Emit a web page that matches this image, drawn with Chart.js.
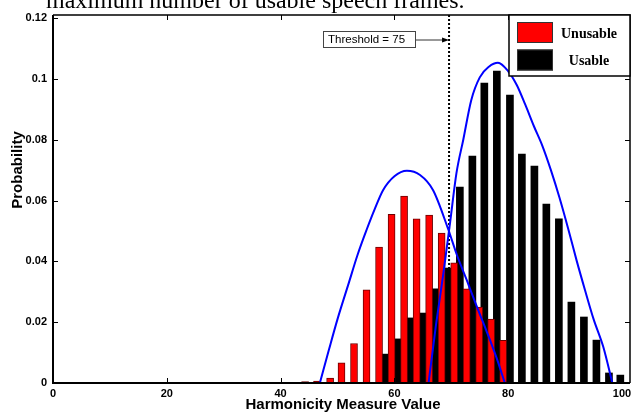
<!DOCTYPE html>
<html>
<head>
<meta charset="utf-8">
<script src="https://cdn.jsdelivr.net/npm/chart.js@4.4.1/dist/chart.umd.min.js"></script>
<style>
  html, body { margin: 0; padding: 0; background: #fff; }
  #wrap { width: 642px; height: 414px; }
</style>
</head>
<body>
<div id="wrap"><canvas id="chart" width="642" height="414"></canvas></div>
<script>
// Ticks
var xTicks = [0, 20, 40, 60, 80, 100];
var yTicks = [0, 0.02, 0.04, 0.06, 0.08, 0.1, 0.12];

// Histogramme "Unusable" (rouge)
var unusableX = [44.3, 46.4, 48.7, 50.7, 52.9, 55.1, 57.3, 59.5, 61.7, 63.9, 66.1, 68.3, 70.5, 72.7, 74.9, 77.0, 79.1];
var unusableP = [0.0005, 0.0006, 0.0016, 0.0066, 0.013, 0.0306, 0.0447, 0.0555, 0.0615, 0.054, 0.0552, 0.0493, 0.0395, 0.031, 0.025, 0.021, 0.014];

// Histogramme "Usable" (noir)
var usableX = [58.4, 60.6, 62.8, 65.0, 67.1, 69.4, 71.5, 73.7, 75.8, 78.0, 80.3, 82.4, 84.6, 86.7, 88.9, 91.1, 93.3, 95.5, 97.7, 99.7];
var usableP = [0.0095, 0.0145, 0.0214, 0.023, 0.031, 0.0378, 0.0644, 0.0746, 0.0986, 0.1026, 0.0947, 0.0753, 0.0713, 0.0588, 0.054, 0.0266, 0.0217, 0.0141, 0.0033, 0.0026];

// Courbes bleues
var fitUnusableX = [46.9, 48.5, 50.0, 52.0, 53.5, 55.1, 56.5, 58.0, 60.0, 62.2, 64.5, 66.8, 69.5, 71.0, 72.7, 74.5, 76.2, 78.0, 79.4];
var fitUnusableP = [0, 0.011, 0.021, 0.033, 0.042, 0.0503, 0.057, 0.0634, 0.068, 0.0698, 0.0684, 0.0634, 0.0503, 0.042, 0.0339, 0.025, 0.017, 0.008, 0];

var fitUsableX = [66.0, 67.3, 68.6, 69.8, 70.9, 72.1, 73.5, 75.0, 76.6, 78.2, 80.0, 81.5, 83.0, 84.5, 86.0, 87.5, 89.0, 90.5, 92.0, 93.5, 95.0, 96.7, 98.3];
var fitUsableP = [0, 0.019, 0.036, 0.053, 0.069, 0.080, 0.093, 0.1005, 0.104, 0.1053, 0.1025, 0.098, 0.0915, 0.0845, 0.078, 0.070, 0.061, 0.051, 0.0404, 0.0305, 0.021, 0.0119, 0];

// Seuil
var thresholdX = 69.6;
var thresholdText = 'Threshold = 75';

function pairs(xs, ys) {
    return xs.map(function(x, i) { return { x: x, y: ys[i] }; });
}

var sansBold = { family: '"Liberation Sans", Arial, sans-serif', size: 11, weight: 'bold' };

/**
 * Desenho do quadro, ticks, títulos, legenda e anotação
 */
var decorPlugin = {
    id: 'decor',
    beforeDatasetsDraw: function(chart) {
        var ctx = chart.ctx, a = chart.chartArea;
        var tx = chart.scales.x.getPixelForValue(thresholdX);
        ctx.save();
        ctx.strokeStyle = '#000';
        ctx.lineWidth = 2;
        ctx.setLineDash([2, 2]);
        ctx.beginPath();
        ctx.moveTo(tx, a.top);
        ctx.lineTo(tx, a.bottom);
        ctx.stroke();
        ctx.restore();
    },
    afterDraw: function(chart) {
        var ctx = chart.ctx, a = chart.chartArea;
        var xs = chart.scales.x, ys = chart.scales.y;
        ctx.save();

        // quadro
        ctx.strokeStyle = '#000';
        ctx.lineWidth = 1.5;
        ctx.beginPath();
        ctx.moveTo(a.left, a.top);
        ctx.lineTo(a.right, a.top);
        ctx.lineTo(a.right, a.bottom);
        ctx.stroke();
        ctx.lineWidth = 2;
        ctx.beginPath();
        ctx.moveTo(a.left, a.top);
        ctx.lineTo(a.left, a.bottom);
        ctx.lineTo(a.right, a.bottom);
        ctx.stroke();

        // ticks para dentro
        ctx.lineWidth = 1;
        ctx.beginPath();
        xTicks.forEach(function(v) {
            var px = Math.round(xs.getPixelForValue(v)) + 0.5;
            ctx.moveTo(px, a.bottom);
            ctx.lineTo(px, a.bottom - 5);
            ctx.moveTo(px, a.top);
            ctx.lineTo(px, a.top + 5);
        });
        yTicks.forEach(function(v) {
            var py = Math.round(ys.getPixelForValue(v)) + 0.5;
            ctx.moveTo(a.left, py);
            ctx.lineTo(a.left + 5, py);
            ctx.moveTo(a.right, py);
            ctx.lineTo(a.right - 5, py);
        });
        ctx.stroke();

        // títulos dos eixos
        ctx.fillStyle = '#000';
        ctx.font = 'bold 15px "Liberation Sans", Arial, sans-serif';
        ctx.textAlign = 'center';
        ctx.textBaseline = 'middle';
        ctx.fillText('Harmonicity Measure Value', 343, 405);
        ctx.save();
        ctx.translate(18, 170);
        ctx.rotate(-Math.PI / 2);
        ctx.fillText('Probability', 0, 0);
        ctx.restore();

        // texto cortado no topo
        ctx.font = '24px "Liberation Serif", "Times New Roman", serif';
        ctx.textAlign = 'left';
        ctx.textBaseline = 'alphabetic';
        ctx.fillText('maximum number of usable speech frames.', 46, 8);

        // anotação do limiar
        var tx = xs.getPixelForValue(thresholdX);
        var ay = 40;
        ctx.fillStyle = '#fff';
        ctx.fillRect(323, 31, 92, 16);
        ctx.strokeStyle = '#444';
        ctx.lineWidth = 1;
        ctx.strokeRect(323.5, 31.5, 92, 16);
        ctx.fillStyle = '#000';
        ctx.font = '11.5px "Liberation Sans", Arial, sans-serif';
        ctx.textBaseline = 'middle';
        ctx.fillText(thresholdText, 328, 40);
        ctx.strokeStyle = '#333';
        ctx.beginPath();
        ctx.moveTo(416, ay);
        ctx.lineTo(tx - 5, ay);
        ctx.stroke();
        ctx.fillStyle = '#000';
        ctx.beginPath();
        ctx.moveTo(tx, ay);
        ctx.lineTo(tx - 7, ay - 2.5);
        ctx.lineTo(tx - 7, ay + 2.5);
        ctx.closePath();
        ctx.fill();

        // legenda
        var lx = 509, ly = a.top, lw = a.right - 509, lh = 76 - a.top;
        ctx.fillStyle = '#fff';
        ctx.fillRect(lx, ly, lw, lh);
        ctx.strokeStyle = '#000';
        ctx.lineWidth = 1.5;
        ctx.strokeRect(lx, ly, lw, lh);
        var items = chart.data.datasets.filter(function(d) { return d.type !== 'line'; });
        items.forEach(function(d, i) {
            var sy = 22 + i * 27.5;
            ctx.fillStyle = d.backgroundColor;
            ctx.fillRect(517, sy, 36, 21);
            ctx.strokeStyle = '#333';
            ctx.lineWidth = 1;
            ctx.strokeRect(517.5, sy + 0.5, 35, 20);
            ctx.fillStyle = '#000';
            ctx.font = 'bold 14px "Liberation Serif", "Times New Roman", serif';
            ctx.textAlign = 'center';
            ctx.textBaseline = 'middle';
            ctx.fillText(d.label, 589, sy + 12);
        });

        ctx.restore();
    }
};

var ctx = document.getElementById('chart').getContext('2d');
var chart = new Chart(ctx, {
    type: 'bar',
    data: {
        datasets: [
            {
                type: 'line',
                label: 'fit unusable',
                data: pairs(fitUnusableX, fitUnusableP),
                borderColor: '#0000ff',
                borderWidth: 2,
                pointRadius: 0,
                cubicInterpolationMode: 'monotone',
                order: 0
            },
            {
                type: 'line',
                label: 'fit usable',
                data: pairs(fitUsableX, fitUsableP),
                borderColor: '#0000ff',
                borderWidth: 2,
                pointRadius: 0,
                cubicInterpolationMode: 'monotone',
                order: 0
            },
            {
                label: 'Unusable',
                data: pairs(unusableX, unusableP),
                backgroundColor: '#ff0000',
                borderColor: '#6a0000',
                borderWidth: 1,
                barThickness: 7,
                order: 1
            },
            {
                label: 'Usable',
                data: pairs(usableX, usableP),
                backgroundColor: '#000000',
                borderColor: '#000000',
                borderWidth: 0,
                barThickness: 7,
                order: 2
            }
        ]
    },
    options: {
        responsive: false,
        animation: false,
        devicePixelRatio: 1,
        layout: { padding: { top: 15, right: 12, left: 0, bottom: 0 } },
        plugins: {
            legend: { display: false },
            tooltip: { enabled: false }
        },
        datasets: { bar: { grouped: false } },
        scales: {
            x: {
                type: 'linear',
                offset: false,
                min: 0,
                max: 101.4,
                afterFit: function(s) { s.height = 31; },
                afterBuildTicks: function(s) { s.ticks = xTicks.map(function(v) { return { value: v }; }); },
                grid: { display: false, drawTicks: false, offset: false },
                border: { display: false },
                ticks: { font: sansBold, color: '#000', padding: 4, maxRotation: 0, autoSkip: false }
            },
            y: {
                min: 0,
                max: 0.121,
                afterFit: function(s) { s.width = 53; },
                afterBuildTicks: function(s) { s.ticks = yTicks.map(function(v) { return { value: v }; }); },
                grid: { display: false, drawTicks: false },
                border: { display: false },
                ticks: {
                    font: sansBold,
                    color: '#000',
                    padding: 6,
                    autoSkip: false,
                    callback: function(v) { return String(parseFloat(v.toFixed(3))); }
                }
            }
        }
    },
    plugins: [decorPlugin]
});
</script>
</body>
</html>
